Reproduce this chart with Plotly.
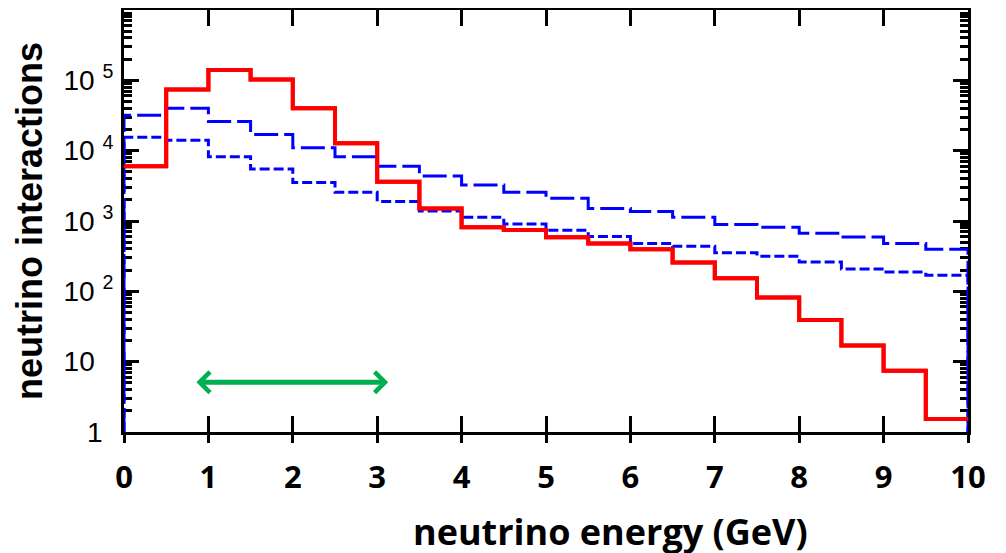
import numpy as np
import plotly.graph_objects as go

# bin edges (GeV), 0.5 GeV bins
bin_edges = [i * 0.5 for i in range(21)]

# red histogram
red_counts = [6000, 74000, 140000, 103000, 40000, 12700, 3600, 1510, 813, 745,
              586, 480, 395, 258, 153, 82, 39, 17, 7.4, 1.53]
# blue long-dashed histogram
blue_long_counts = [32000, 40000, 26000, 17000, 11000, 8200, 6000, 4370, 3240, 2560,
                    2100, 1510, 1370, 1130, 895, 813, 668, 590, 480, 395]
# blue short-dashed histogram
blue_short_counts = [15500, 14100, 8200, 5500, 3540, 2560, 1900, 1390, 1130, 905,
                     740, 600, 480, 437, 355, 316, 262, 208, 188, 170]

x_ticks = list(range(11))
y_tickvals = [1, 10, 100, 1000, 10000, 100000]
y_ticktext = ["1<sup>&nbsp;&nbsp;</sup>", "10 <sup>&nbsp;&nbsp;</sup>", "10 <sup>2</sup>",
              "10 <sup>3</sup>", "10 <sup>4</sup>", "10 <sup>5</sup>"]
y_minor = [k * 10 ** n for n in range(6) for k in range(2, 10)]

arrow_range = [0.84, 3.13]
arrow_level = 5.1


def step_xy(counts, closed=True):
    xs = bin_edges[:-1] + [bin_edges[-1]]
    ys = list(counts) + [counts[-1]]
    if closed:
        xs = [bin_edges[0]] + xs + [bin_edges[-1]]
        ys = [1] + ys + [1]
    return xs, ys


fig = go.Figure()
for counts, color, width, dash, closed in [
    (red_counts, "#ff0000", 4, "solid", False),
    (blue_short_counts, "#0000ff", 3, "10px,4px", True),
    (blue_long_counts, "#0000ff", 3, "24px,6px", True),
]:
    xs, ys = step_xy(counts, closed)
    fig.add_trace(go.Scatter(x=xs, y=ys, mode="lines", line_shape="hv",
                             line=dict(color=color, width=width, dash=dash),
                             showlegend=False, hoverinfo="skip"))
# red drawn again on the overlay axis so it sits above the blue lines
xs, ys = step_xy(red_counts, False)
fig.add_trace(go.Scatter(x=xs, y=ys, mode="lines", line_shape="hv", xaxis="x2",
                         line=dict(color="#ff0000", width=4),
                         showlegend=False, hoverinfo="skip"))

fig.add_annotation(x=arrow_range[1], y=np.log10(arrow_level),
                   ax=arrow_range[0], ay=np.log10(arrow_level),
                   xref="x", yref="y", axref="x", ayref="y",
                   text="", showarrow=True, arrowside="end+start",
                   arrowhead=4, startarrowhead=4, arrowsize=0.8, startarrowsize=0.8,
                   arrowwidth=5, arrowcolor="#00b050")

fig.add_annotation(text="<b>neutrino energy (GeV)</b>", xref="paper", yref="paper",
                   x=0.576, y=-0.236, xanchor="center", yanchor="middle",
                   showarrow=False, font=dict(family="Open Sans", size=36, color="black"))

fig.update_layout(
    xaxis=dict(range=[0, 10], tickvals=x_ticks, ticktext=[str(v) for v in x_ticks],
               ticks="inside", ticklen=16, tickwidth=3, tickcolor="black",
               showline=True, linecolor="black", linewidth=3, mirror="ticks",
               showgrid=False, zeroline=False, layer="below traces",
               ticklabelstandoff=16,
               tickfont=dict(family="Open Sans", size=31, color="black", weight="bold")),
    xaxis2=dict(range=[0, 10], overlaying="x", side="bottom", anchor="y",
                tickvals=x_ticks, showticklabels=False,
                ticks="outside", ticklen=10, tickwidth=3, tickcolor="black",
                showline=False, showgrid=False, zeroline=False),
)

fig.update_yaxes(type="log", range=[0, 6], tickvals=y_tickvals, ticktext=y_ticktext,
                 ticks="inside", ticklen=15, tickwidth=3, tickcolor="black",
                 minor=dict(tickvals=y_minor, ticks="inside", ticklen=8, tickwidth=3,
                            tickcolor="black", showgrid=False),
                 showline=True, linecolor="black", linewidth=3, mirror="ticks",
                 showgrid=False, zeroline=False, layer="below traces",
                 ticklabelstandoff=2,
                 tickfont=dict(family="Liberation Sans", size=28, color="black"),
                 title=dict(text="<b>neutrino interactions</b>", standoff=10,
                            font=dict(family="Liberation Sans", size=36, color="black")))

fig.update_layout(width=998, height=545, paper_bgcolor="white", plot_bgcolor="white",
                  margin=dict(l=116, r=38, t=2, b=121, autoexpand=False),
                  showlegend=False)

fig.write_html("out.html")
